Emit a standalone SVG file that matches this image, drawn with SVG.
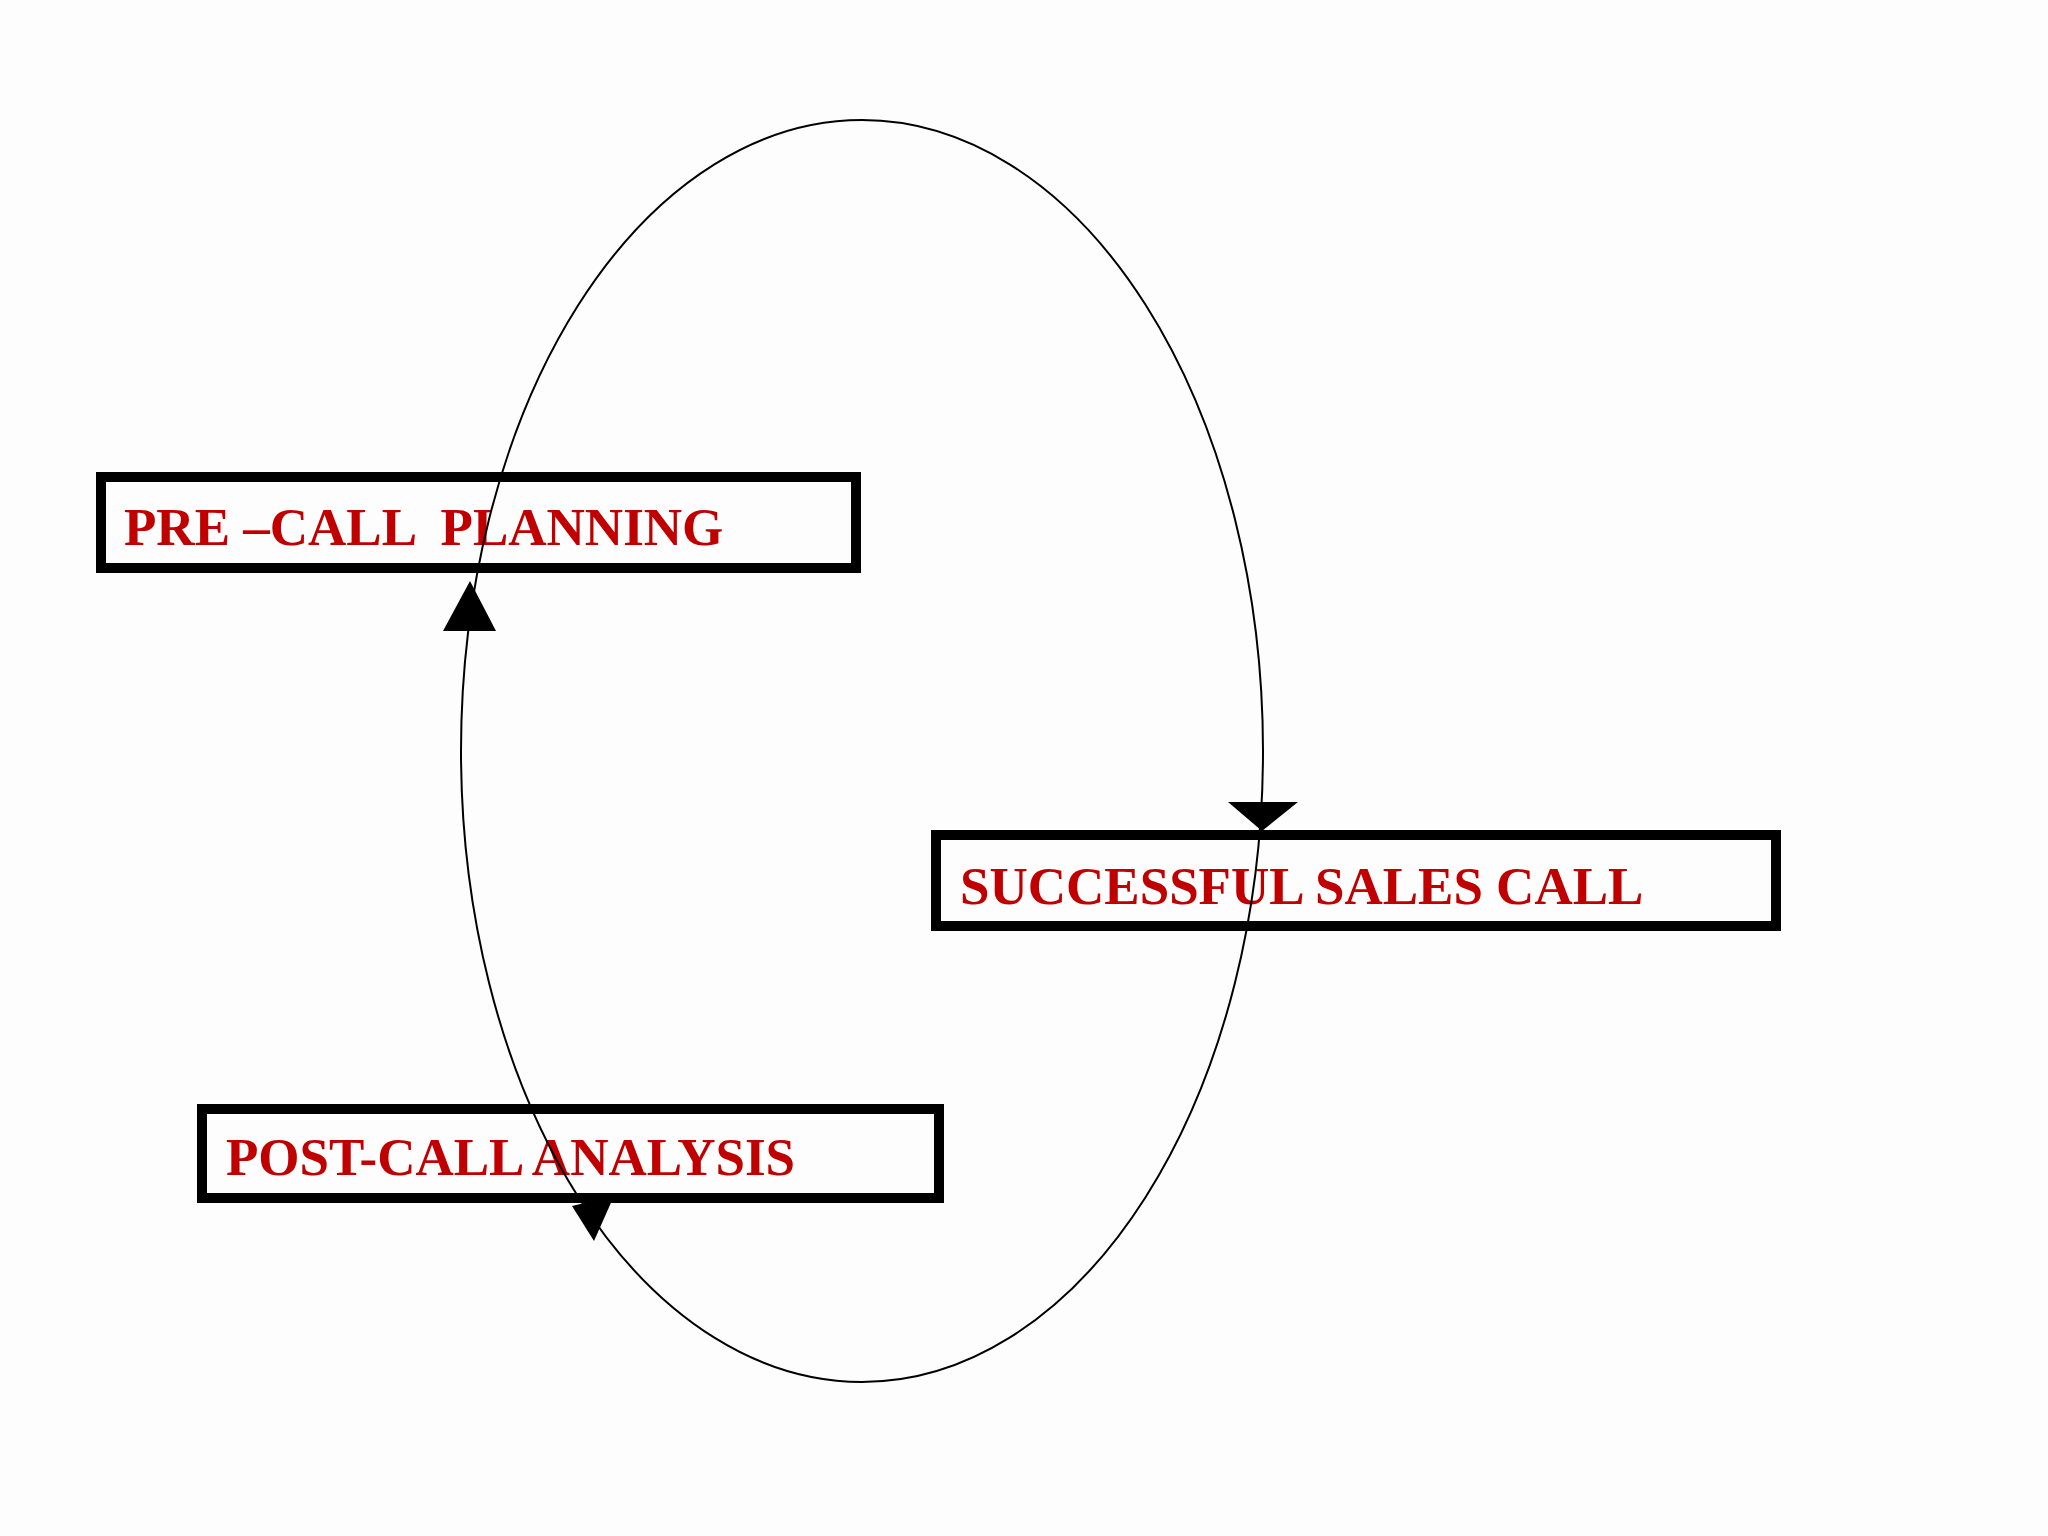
<svg xmlns="http://www.w3.org/2000/svg" width="2048" height="1536" viewBox="0 0 2048 1536">
<style>
.box{fill:none;stroke:#000;stroke-width:10}
.t{font-family:"Liberation Serif",serif;font-weight:bold;font-size:53px;fill:#c00000}
</style>
<rect width="2048" height="1536" fill="#fdfdfd"/>
<g id="node-pre"><rect class="box" x="101" y="477" width="755" height="91"/><text class="t" x="124" y="545" xml:space="preserve">PRE –CALL  PLANNING</text></g>
<g id="node-sales"><rect class="box" x="936" y="835" width="840" height="91"/><text class="t" x="960" y="904">SUCCESSFUL SALES CALL</text></g>
<g id="node-post"><rect class="box" x="202" y="1109" width="737" height="89"/><text class="t" x="226" y="1175">POST-CALL ANALYSIS</text></g>
<g id="connectors">
<ellipse cx="862" cy="751" rx="401" ry="631" fill="none" stroke="#000" stroke-width="2"/>
<polygon points="470,581 443,631 496,631" fill="#000"/>
<polygon points="1262,831 1228,802 1298,802" fill="#000"/>
<polygon points="594,1241 572,1206 614,1196" fill="#000"/>
</g>
</svg>
